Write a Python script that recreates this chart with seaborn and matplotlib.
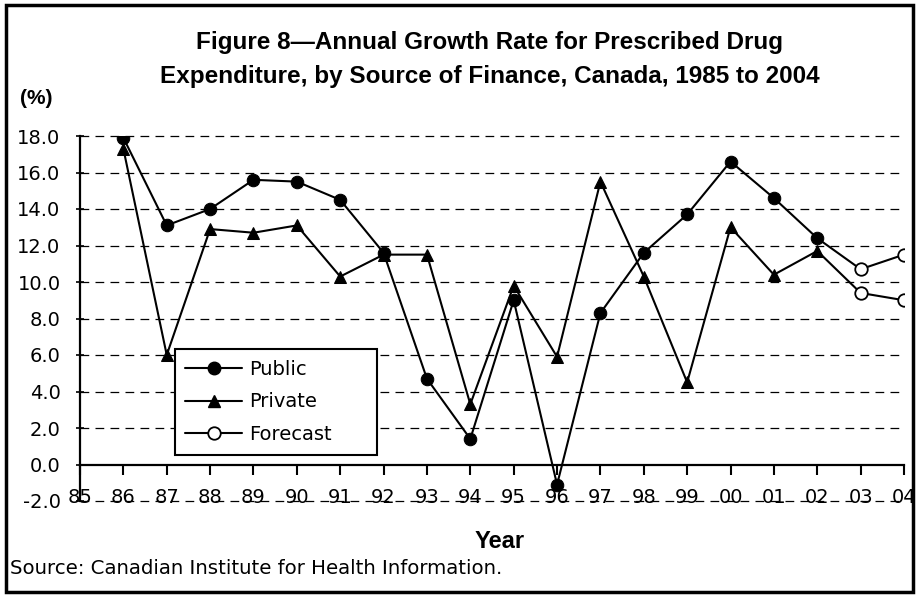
import numpy as np
import pandas as pd
import matplotlib
matplotlib.use('Agg')
from matplotlib import pyplot as plt
from matplotlib.patches import Rectangle
from matplotlib.lines import Line2D
import seaborn as sns

# данные
years = ['85', '86', '87', '88', '89', '90', '91', '92', '93', '94',
         '95', '96', '97', '98', '99', '00', '01', '02', '03', '04']
public = [17.9, 13.1, 14.0, 15.6, 15.5, 14.5, 11.6, 4.7, 1.4,
          9.0, -1.1, 8.3, 11.6, 13.7, 16.6, 14.6, 12.4]
private = [17.3, 6.0, 12.9, 12.7, 13.1, 10.3, 11.5, 11.5, 3.3,
           9.8, 5.9, 15.5, 10.3, 4.5, 13.0, 10.4, 11.7]
forecast_public = [10.7, 11.5]
forecast_private = [9.4, 9.0]

sns.set_style('white')
plt.rcParams['font.family'] = ['DejaVu Sans']
plt.rcParams['text.color'] = 'black'
plt.rcParams['xtick.color'] = 'black'
plt.rcParams['ytick.color'] = 'black'

x_all = np.arange(len(years))
n = len(public)
df = pd.DataFrame({'x': x_all[1:n + 1], 'Public': public, 'Private': private})
fc_pub = pd.DataFrame({'x': x_all[n:n + 3], 'y': [public[-1]] + forecast_public})
fc_priv = pd.DataFrame({'x': x_all[n:n + 3], 'y': [private[-1]] + forecast_private})

fig = plt.figure(figsize=(9.19, 5.96), dpi=100)
ax = fig.add_axes([80 / 919, 1 - 501 / 596, 824 / 919, 365 / 596])

line_kw = dict(color='black', linewidth=1.5, markersize=9, markeredgecolor='black')
sns.lineplot(data=df, x='x', y='Public', marker='o', ax=ax, **line_kw)
sns.lineplot(data=df, x='x', y='Private', marker='^', ax=ax, **line_kw)
for fc in (fc_pub, fc_priv):
    sns.lineplot(data=fc, x='x', y='y', marker='o', markerfacecolor='white',
                 markeredgewidth=1.3, markevery=[1, 2], ax=ax, **line_kw)

# оси
for s in ['top', 'right']:
    ax.spines[s].set_visible(False)
ax.spines['bottom'].set_position(('data', 0))
for s in ['bottom', 'left']:
    ax.spines[s].set_linewidth(1.6)
    ax.spines[s].set_color('black')

ax.set_xlim(0, len(years) - 1)
ax.set_ylim(-2, 18)
yt = np.arange(-2, 19, 2)
ax.set_yticks(yt)
ax.set_yticklabels([f'{v:.1f}' for v in yt], fontsize=14)
ax.set_xticks(x_all)
ax.set_xticklabels(years, fontsize=14)
ax.tick_params(axis='x', direction='out', length=7, width=1.5, pad=10, bottom=True)
ax.tick_params(axis='y', direction='inout', length=6, width=1.2, pad=11, left=True)
ax.set_xlabel('')
ax.set_ylabel('')

for v in yt:
    if v != 0:
        ax.axhline(v, color='black', linewidth=0.9, dashes=(7, 5), zorder=0, clip_on=False)

handles = [
    Line2D([], [], color='black', lw=1.5, marker='o', markersize=9),
    Line2D([], [], color='black', lw=1.5, marker='^', markersize=9),
    Line2D([], [], color='black', lw=1.5, marker='o', markersize=9,
           markerfacecolor='white', markeredgewidth=1.3),
]
leg = ax.legend(handles, ['Public', 'Private', 'Forecast'], loc='upper left',
                bbox_to_anchor=(0.115, 0.416, 0.245, 0.0), mode='expand',
                fontsize=14, frameon=True, fancybox=False, handlelength=2.9,
                handletextpad=0.4, borderpad=0.55, borderaxespad=0,
                labelspacing=0.7)
leg.get_frame().set_edgecolor('black')
leg.get_frame().set_linewidth(1.5)
leg.get_frame().set_alpha(1)

fig.text(490 / 919, 1 - 43 / 596, 'Figure 8\u2014Annual Growth Rate for Prescribed Drug',
         ha='center', va='center', fontsize=17.5, fontweight='bold', family='Liberation Sans')
fig.text(490 / 919, 1 - 77 / 596, 'Expenditure, by Source of Finance, Canada, 1985 to 2004',
         ha='center', va='center', fontsize=17.5, fontweight='bold', family='Liberation Sans')
fig.text(20 / 919, 1 - 98 / 596, '(%)', ha='left', va='center', fontsize=15,
         fontweight='bold', family='Liberation Sans')
fig.text(500 / 919, 1 - 542 / 596, 'Year', ha='center', va='center', fontsize=17,
         fontweight='bold', family='Liberation Sans')
fig.text(10 / 919, 1 - 569 / 596, 'Source: Canadian Institute for Health Information.',
         ha='left', va='center', fontsize=14.2)

fig.patches.append(Rectangle((6 / 919, 4 / 596), 907 / 919, 587 / 596,
                             transform=fig.transFigure, fill=False,
                             edgecolor='black', linewidth=2.5))

fig.savefig('out.png', dpi=100)
